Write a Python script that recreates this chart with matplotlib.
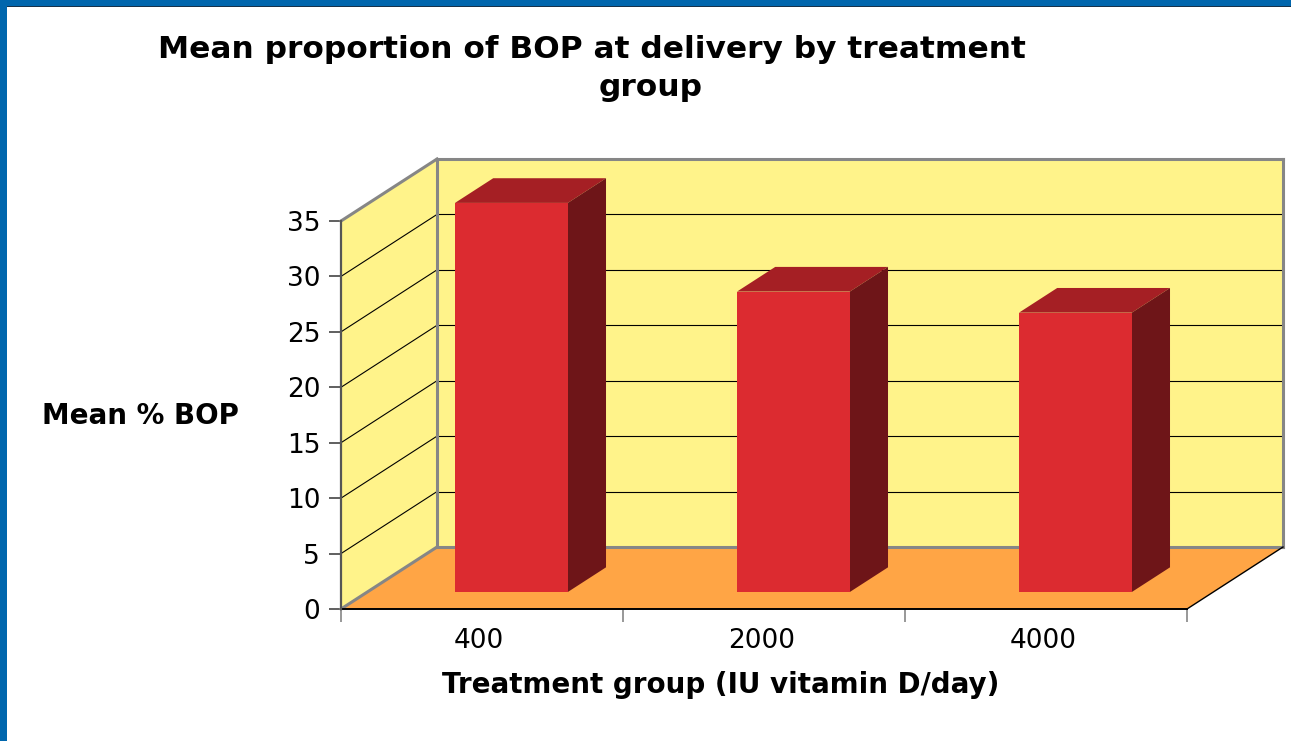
import matplotlib
matplotlib.use("Agg")
import matplotlib.pyplot as plt
from matplotlib.patches import Polygon, Rectangle

# data
categories = ["400", "2000", "4000"]
mean_bop = [35.1, 27.1, 25.2]
y_ticks = [0, 5, 10, 15, 20, 25, 30, 35]
title_line_1 = "Mean proportion of BOP at delivery by treatment"
title_line_2 = "group"
xlabel = "Treatment group (IU vitamin D/day)"
ylabel = "Mean % BOP"

W, H = 1291, 741
GREY = "#868686"
YELLOW = "#FFF38A"
ORANGE = "#FFA545"
RED, RED_TOP, RED_SIDE = "#DC2B30", "#A51F24", "#6E1518"
BLUE = "#0066AD"

plt.rcParams["font.family"] = ["DejaVu Sans"]
fig = plt.figure(figsize=(W / 100, H / 100), dpi=100, facecolor="white")

# page border
fig.add_artist(Rectangle((0, 0), 7 / W, 1, transform=fig.transFigure, fc=BLUE, ec="none"))
fig.add_artist(Rectangle((0, 1 - 6 / H), 1, 6 / H, transform=fig.transFigure, fc=BLUE, ec="none"))
fig.add_artist(Rectangle((7 / W, 1 - 7 / H), 1, 1 / H, transform=fig.transFigure, fc="#17324a", ec="none"))

ax = fig.add_axes([341 / W, (H - 609) / H, 846 / W, 388 / H])
ax.set_xlim(0, len(categories))
ax.set_ylim(0, 35)
ax.patch.set_visible(False)
for s in ax.spines.values():
    s.set_visible(False)

# oblique depth of the chart box, in data units
DX = 96 / 282
DY = 62 / (388 / 35)
n = len(categories)
top = y_ticks[-1]


def proj(x, y, z):
    return (x + z * DX, y + z * DY)


def poly(points, **kw):
    p = Polygon([proj(*q) for q in points], closed=True, clip_on=False, **kw)
    ax.add_patch(p)
    return p


def line(a, b, color, lw, zorder=3):
    pa, pb = proj(*a), proj(*b)
    ax.plot([pa[0], pb[0]], [pa[1], pb[1]], color=color, lw=lw, clip_on=False,
            zorder=zorder, solid_capstyle="projecting")


# walls and floor
poly([(0, 0, 1), (n, 0, 1), (n, top, 1), (0, top, 1)], fc=YELLOW, ec="none", zorder=1)
poly([(0, 0, 0), (0, 0, 1), (0, top, 1), (0, top, 0)], fc=YELLOW, ec="none", zorder=1)
poly([(0, 0, 0), (n, 0, 0), (n, 0, 1), (0, 0, 1)], fc=ORANGE, ec="none", zorder=1)

# gridlines
for v in y_ticks[1:-1]:
    line((0, v, 0), (0, v, 1), "black", 0.8, 2)
    line((0, v, 1), (n, v, 1), "black", 0.8, 2)

# wall borders
line((0, top, 0), (0, top, 1), GREY, 2.2)
line((0, top, 1), (n, top, 1), GREY, 2.2)
line((n, top, 1), (n, 0, 1), GREY, 2.2)
line((0, top, 1), (0, 0, 1), GREY, 2.2)
line((0, 0, 1), (n, 0, 1), GREY, 2.2)
line((0, 0, 0), (0, 0, 1), GREY, 2.2)
line((n, 0, 0), (n, 0, 1), "black", 1.0)
line((0, 0, 0), (n, 0, 0), "black", 1.4)
line((0, 0, 0), (0, top, 0), "#555555", 1.6)

# bars
BAR_LEFT, BAR_W = 0.311, 0.40
Z0, Z1 = 0.274, 0.672
for i, v in enumerate(mean_bop):
    a, b = i + BAR_LEFT, i + BAR_LEFT + BAR_W
    poly([(a, v, Z0), (b, v, Z0), (b, v, Z1), (a, v, Z1)], fc=RED_TOP, ec="none", zorder=4)
    poly([(b, 0, Z0), (b, 0, Z1), (b, v, Z1), (b, v, Z0)], fc=RED_SIDE, ec="none", zorder=4)
    poly([(a, 0, Z0), (b, 0, Z0), (b, v, Z0), (a, v, Z0)], fc=RED, ec="none", zorder=5)

# axes ticks and labels
ax.set_yticks(y_ticks)
ax.set_xticks(range(n + 1))
ax.set_xticklabels([])
ax.set_xticks([i + 0.49 for i in range(n)], categories, minor=True)
ax.tick_params(axis="y", length=9, width=1.2, color="#444444", pad=6, labelsize=19)
ax.tick_params(axis="x", which="major", length=9, width=1.2, color=GREY)
ax.tick_params(axis="x", which="minor", length=0, pad=14, labelsize=19)

ax.set_xlabel(xlabel, fontsize=20, fontweight="bold")
ax.xaxis.set_label_coords((721 - 341) / 846, (609 - 685) / 388)
ax.xaxis.label.set_va("center")
ax.set_ylabel(ylabel, fontsize=20, fontweight="bold", rotation=0, ha="center", va="center")
ax.yaxis.set_label_coords((140 - 341) / 846, (609 - 416) / 388)

fig.text(592 / W, 1 - 58 / H, title_line_1, ha="center", va="baseline",
         fontsize=22.5, fontweight="bold")
fig.text(651 / W, 1 - 96 / H, title_line_2, ha="center", va="baseline",
         fontsize=22.5, fontweight="bold")

fig.savefig("out.png", dpi=100, facecolor="white")
